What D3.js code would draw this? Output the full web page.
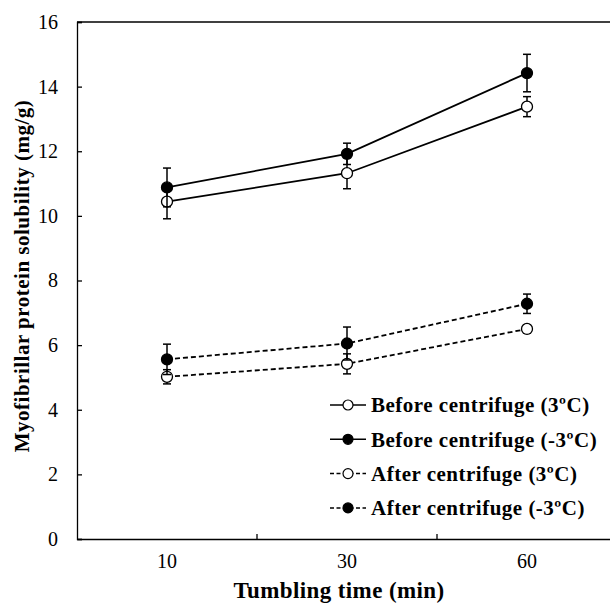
<!DOCTYPE html>
<html>
<head>
<meta charset="utf-8">
<script src="https://cdn.jsdelivr.net/npm/d3@7"></script>
<style>
  body { margin: 0; background: #fff; }
  svg { display: block; }
  svg text { font-family: "Liberation Serif", "Times New Roman", serif; }
</style>
</head>
<body>
<div id="chart"></div>
<script>
// Data
const times = ["10", "30", "60"];
const yTicks = [0, 2, 4, 6, 8, 10, 12, 14, 16];

const before3 = [10.44, 11.32, 13.38];
const before3Err = [0.53, 0.48, 0.31];
const beforeMinus3 = [10.88, 11.92, 14.42];
const beforeMinus3Err = [0.6, 0.33, 0.58];
const after3 = [5.02, 5.42, 6.5];
const after3Err = [0.22, 0.31, 0.13];
const afterMinus3 = [5.56, 6.05, 7.28];
const afterMinus3Err = [0.47, 0.51, 0.3];

const seriesNames = [
  "Before centrifuge (3ºC)",
  "Before centrifuge (-3ºC)",
  "After centrifuge (3ºC)",
  "After centrifuge (-3ºC)"
];

const series = [
  { name: seriesNames[0], values: before3, errors: before3Err, filled: false, dashed: false },
  { name: seriesNames[1], values: beforeMinus3, errors: beforeMinus3Err, filled: true, dashed: false },
  { name: seriesNames[2], values: after3, errors: after3Err, filled: false, dashed: true },
  { name: seriesNames[3], values: afterMinus3, errors: afterMinus3Err, filled: true, dashed: true }
];

// Size
const width = 610, height = 603;
const margin = { top: 22, left: 77, bottom: 64, right: -7 };

const svg = d3.select("#chart").append("svg")
    .attr("width", width)
    .attr("height", height);

// Scales
const xScale = d3.scaleBand()
    .domain(times)
    .range([margin.left, width - margin.right]);

const yScale = d3.scaleLinear()
    .domain([0, 16])
    .range([height - margin.bottom, margin.top]);

// Axes
const gY = svg.append("g")
    .attr("transform", "translate(" + margin.left + ",0)")
    .call(d3.axisLeft(yScale).tickValues(yTicks).tickSize(-5).tickPadding(19));

const gX = svg.append("g")
    .attr("transform", "translate(0," + yScale(0) + ")")
    .call(d3.axisBottom(xScale).tickSize(0).tickPadding(15));

// Category boundary ticks
svg.append("g").selectAll("line")
    .data(times.slice(1))
  .enter().append("line")
    .attr("x1", d => xScale(d))
    .attr("x2", d => xScale(d))
    .attr("y1", yScale(0))
    .attr("y2", yScale(0) - 5)
    .style("stroke", "#000")
    .style("stroke-width", 1.3);

// Top border
svg.append("line")
    .attr("x1", margin.left)
    .attr("x2", width)
    .attr("y1", yScale(16))
    .attr("y2", yScale(16))
    .style("stroke", "#000")
    .style("stroke-width", 1.3);

[gX, gY].forEach(g => {
  g.attr("font-family", null).attr("font-size", null);
  g.select(".domain").style("stroke", "#000").style("stroke-width", 1.3);
  g.selectAll(".tick line").style("stroke", "#000").style("stroke-width", 1.3);
  g.selectAll(".tick text")
      .style("font-size", "20px")
      .style("fill", "#000");
});

const cx = d => xScale(d) + xScale.bandwidth() / 2;

// Lines
const lineShape = d3.line()
    .x(d => cx(d.time))
    .y(d => yScale(d.value));

const gSeries = svg.append("g").selectAll(".series")
    .data(series)
  .enter().append("g")
    .attr("class", "series");

gSeries.append("path")
    .attr("d", d => lineShape(d.values.map((v, i) => ({ time: times[i], value: v }))))
    .style("fill", "none")
    .style("stroke", "#000")
    .style("stroke-width", 1.8)
    .style("stroke-dasharray", d => d.dashed ? "5 3" : null);

// Error bars
gSeries.each(function(s) {
  const g = d3.select(this).append("g");
  s.values.forEach((v, i) => {
    const x = cx(times[i]);
    const y0 = yScale(v - s.errors[i]), y1 = yScale(v + s.errors[i]);
    g.append("line").attr("x1", x).attr("x2", x).attr("y1", y0).attr("y2", y1);
    g.append("line").attr("x1", x - 4).attr("x2", x + 4).attr("y1", y0).attr("y2", y0);
    g.append("line").attr("x1", x - 4).attr("x2", x + 4).attr("y1", y1).attr("y2", y1);
  });
  g.selectAll("line").style("stroke", "#000").style("stroke-width", 1.5);
});

// Markers
gSeries.each(function(s) {
  d3.select(this).selectAll("circle")
      .data(s.values)
    .enter().append("circle")
      .attr("cx", (d, i) => cx(times[i]))
      .attr("cy", d => yScale(d))
      .attr("r", 5.5)
      .style("fill", s.filled ? "#000" : "#fff")
      .style("stroke", "#000")
      .style("stroke-width", 1.3);
});

// Legend
const legend = svg.append("g").attr("class", "legend")
    .attr("transform", "translate(330,405)");

const legendItem = legend.selectAll(".item")
    .data(series)
  .enter().append("g")
    .attr("class", "item")
    .attr("transform", (d, i) => "translate(0," + i * 34.3 + ")");

legendItem.append("line")
    .attr("x1", 0).attr("x2", 36)
    .attr("y1", 0).attr("y2", 0)
    .style("stroke", "#000")
    .style("stroke-width", 1.5)
    .style("stroke-dasharray", d => d.dashed ? "4 2.5" : null);

legendItem.append("circle")
    .attr("cx", 18).attr("cy", 0)
    .attr("r", 5)
    .style("fill", d => d.filled ? "#000" : "#fff")
    .style("stroke", "#000")
    .style("stroke-width", 1.2);

legendItem.append("text")
    .attr("x", 41)
    .attr("y", 0)
    .attr("dy", "0.35em")
    .style("font-size", "21px")
    .style("font-weight", "bold")
    .style("letter-spacing", "0.5px")
    .text(d => d.name);

// Axis titles
svg.append("text")
    .attr("x", 339)
    .attr("y", 598)
    .attr("text-anchor", "middle")
    .style("font-size", "23px")
    .style("font-weight", "bold")
    .style("letter-spacing", "0.4px")
    .text("Tumbling time (min)");

svg.append("text")
    .attr("transform", "translate(29,276) rotate(-90)")
    .attr("text-anchor", "middle")
    .style("font-size", "21px")
    .style("font-weight", "bold")
    .style("letter-spacing", "0.5px")
    .text("Myofibrillar protein solubility (mg/g)");
</script>
</body>
</html>
